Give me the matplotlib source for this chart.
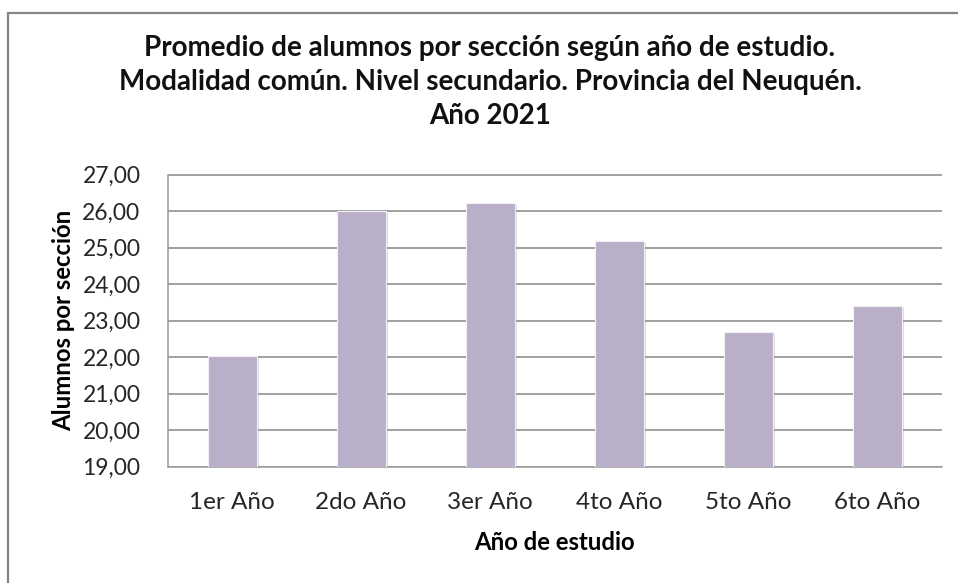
import matplotlib.pyplot as plt
import matplotlib.patheffects as pe
from matplotlib.patches import Rectangle
import numpy as np

plt.rcParams['font.family'] = ['Lato', 'DejaVu Sans']

# Datos
anios = ['1er Año', '2do Año', '3er Año', '4to Año', '5to Año', '6to Año']
promedio = [22.02, 25.99, 26.22, 25.17, 22.69, 23.40]
ticks_y = [19, 20, 21, 22, 23, 24, 25, 26, 27]

fig = plt.figure(figsize=(9.58, 5.83), dpi=100)
fig.patch.set_facecolor('white')

# Marco exterior del gráfico
fig.patches.append(Rectangle((8 / 958, -0.05), 1.2, (583 - 13) / 583 + 0.05,
                             transform=fig.transFigure, fill=False,
                             edgecolor='#858585', linewidth=1.6))

ax = fig.add_axes([167.5 / 958, (583 - 466.7) / 583,
                   (941.7 - 167.5) / 958, (466.7 - 174.5) / 583])

x = np.arange(len(anios))
bars = ax.bar(x, promedio, width=0.38, bottom=0, color='#B9AFC9',
              edgecolor='#F2F0F5', linewidth=0.8, zorder=3)
for b in bars:
    b.set_path_effects([pe.SimplePatchShadow(offset=(1.5, -1.5), shadow_rgbFace='#999999', alpha=0.35),
                        pe.Normal()])

ax.set_ylim(19, 27)
ax.set_xlim(-0.5, len(anios) - 0.5)
ax.set_yticks(ticks_y)
ax.set_yticklabels([f'{v:.2f}'.replace('.', ',') for v in ticks_y])
ax.set_xticks(x)
ax.set_xticklabels(anios)
ax.tick_params(axis='both', length=0, colors='#262626')
ax.tick_params(axis='y', pad=19.5, labelsize=16.5)
ax.tick_params(axis='x', pad=18, labelsize=17.5)

ax.yaxis.grid(True, color='#868686', linewidth=1.1, zorder=0)
ax.set_axisbelow(True)
for s in ['top', 'right']:
    ax.spines[s].set_visible(False)
for s in ['left', 'bottom']:
    ax.spines[s].set_color('#9A9A9A')
    ax.spines[s].set_linewidth(1.1)

ax.set_xlabel('Año de estudio', fontsize=17.2, fontweight='bold', labelpad=13)
ax.set_ylabel('Alumnos por sección', fontsize=17.2, fontweight='bold', labelpad=5)

fig.text(490 / 958, 1 - 82 / 583,
         'Promedio de alumnos por sección según año de estudio.\n'
         'Modalidad común. Nivel secundario. Provincia del Neuquén.\n'
         'Año 2021',
         ha='center', va='center', fontsize=20, fontweight='bold',
         linespacing=1.38, color='#111111')

fig.savefig('out.png', dpi=100)
